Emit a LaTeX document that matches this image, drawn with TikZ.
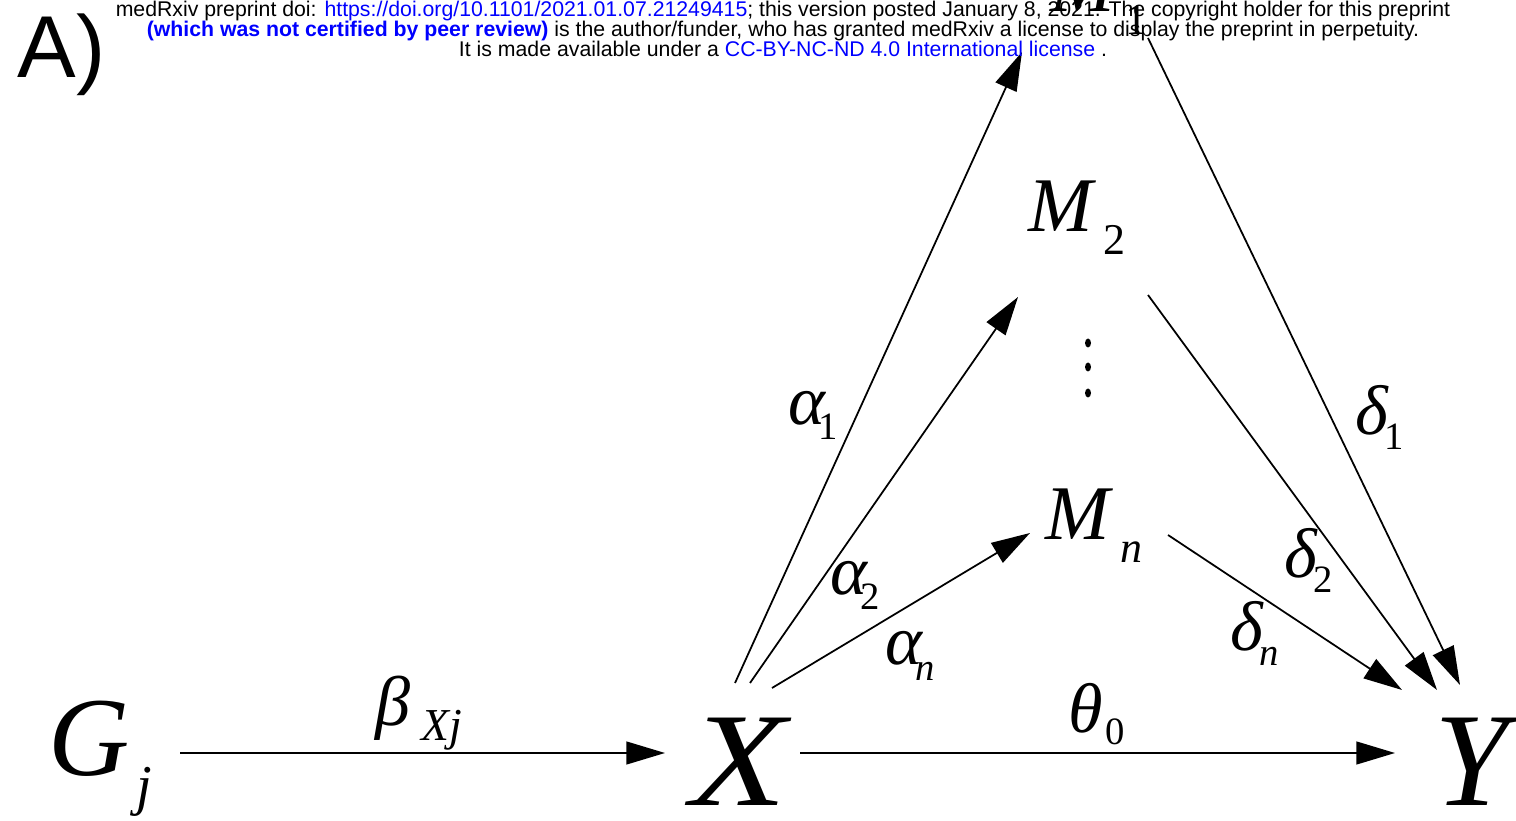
\documentclass[tikz,border=0pt]{standalone}
\usepackage{fontspec}
\setmainfont{Liberation Serif}
\newfontfamily\headfont{Liberation Sans}
\usetikzlibrary{positioning,calc}
\usetikzlibrary{arrows.meta}
\definecolor{LinkBlue}{RGB}{0,0,255}
\newcommand{\vsub}[3]{\raisebox{-#1}{\fontsize{#2}{#2}\selectfont #3}}
\tikzset{
  var/.style={inner sep=0pt,anchor=base west,font=\itshape},
  lab/.style={inner sep=0pt,anchor=base west,font=\itshape\fontsize{20}{22}\selectfont},
  arr/.style={draw=black,line width=0.5pt,-{Triangle[length=11pt,width=6.5pt]}},
  head/.style={inner sep=0pt,anchor=base,font=\headfont\fontsize{6.05}{7}\selectfont},
}

\begin{document}
\begin{tikzpicture}
\useasboundingbox (0,0) rectangle (15.16,8.20);
% variables
\node[var] (Gj) at (0.48,0.45) {\fontsize{32}{34}\selectfont G\kern2pt\vsub{8.3pt}{16}{j}};
\node[var] (X) at (6.90,0.15) {\fontsize{38}{40}\selectfont\scalebox{1.18}[1]{X}};
\node[var] (Y) at (14.34,0.15) {\fontsize{38}{40}\selectfont Y};
\node[var] (M1) at (10.50,8.08) {\fontsize{22}{24}\selectfont M\kern3pt\vsub{6.5pt}{12.5}{\upshape 1}};
\node[var] (M2) at (10.28,5.88) {\fontsize{22}{24}\selectfont M\kern3pt\vsub{6.5pt}{12.5}{\upshape 2}};
\node[var] (Mn) at (10.45,2.80) {\fontsize{22}{24}\selectfont M\kern3pt\vsub{6.5pt}{12.5}{n}};
\foreach \y in {4.77,4.53,4.27}
  \fill (10.88,\y) ellipse (0.03 and 0.045);
% paths
\draw[arr] ([shift={(1.32,0.22)}]Gj.base west) -- ([shift={(-0.25,0.52)}]X.base west);
\draw[arr] ([shift={(1.10,0.52)}]X.base west) -- ([shift={(-0.39,0.52)}]Y.base west);
\draw[arr] ([shift={(0.45,1.22)}]X.base west) -- ([shift={(-0.28,-0.40)}]M1.base west);
\draw[arr] ([shift={(0.60,1.22)}]X.base west) -- ([shift={(-0.10,-0.65)}]M2.base west);
\draw[arr] ([shift={(0.82,1.17)}]X.base west) -- ([shift={(-0.15,0.07)}]Mn.base west);
\draw[arr] ([shift={(0.98,-0.26)}]M1.base west) -- ([shift={(0.26,1.20)}]Y.base west);
\draw[arr] ([shift={(1.20,-0.63)}]M2.base west) -- ([shift={(0.03,1.15)}]Y.base west);
\draw[arr] ([shift={(1.23,0.05)}]Mn.base west) -- ([shift={(-0.32,1.15)}]Y.base west);
% coefficients
\node[lab] (bXj) at (3.75,0.95) {β\kern3pt\vsub{4.3pt}{13}{Xj}};
\node[lab] (t0) at (10.68,0.87) {θ\kern0.5pt\vsub{3.4pt}{11}{\upshape 0}};
\node[lab] (a1) at (7.88,3.95) {α\kern-2pt\vsub{4pt}{11}{\upshape 1}};
\node[lab] (a2) at (8.30,2.25) {α\kern-2pt\vsub{4pt}{11}{\upshape 2}};
\node[lab] (an) at (8.85,1.55) {α\kern-2pt\vsub{4.3pt}{11}{n}};
\node[lab] (d1) at (13.55,3.85) {δ\kern-1pt\vsub{4pt}{11}{\upshape 1}};
\node[lab] (d2) at (12.84,2.42) {δ\kern-1pt\vsub{4pt}{11}{\upshape 2}};
\node[lab] (dn) at (12.30,1.70) {δ\kern-1pt\vsub{4.3pt}{11}{n}};
% panel letter and preprint header
\node[inner sep=0pt,anchor=base west,font=\headfont\fontsize{25}{27}\selectfont] (panel) at (0.17,7.42) {A)};
\node[head] (h1) at (7.83,8.03) {medRxiv preprint doi: \textcolor{LinkBlue}{https://doi.org/10.1101/2021.01.07.21249415}; this version posted January 8, 2021. The copyright holder for this preprint};
\node[head] (h2) at (7.83,7.83) {\textcolor{LinkBlue}{\bfseries (which was not certified by peer review)} is the author/funder, who has granted medRxiv a license to display the preprint in perpetuity.};
\node[head] (h3) at (7.83,7.63) {It is made available under a \textcolor{LinkBlue}{CC-BY-NC-ND 4.0 International license} .};
\end{tikzpicture}
\end{document}
